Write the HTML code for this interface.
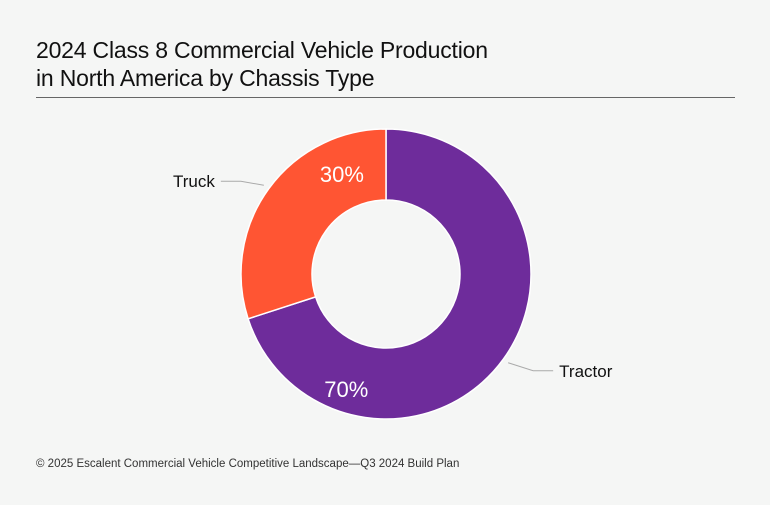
<!DOCTYPE html>
<html><head><meta charset="utf-8"><style>
body{margin:0;background:#f5f6f5;font-family:"Liberation Sans",sans-serif;}
#wrap{position:relative;width:770px;height:505px;background:#f5f6f5;overflow:hidden}
h1{position:absolute;left:36px;top:36px;margin:0;font-weight:normal;font-size:23px;line-height:28px;color:#111;letter-spacing:-0.2px}
#rule{position:absolute;left:36px;top:97px;width:699px;height:1px;background:#666}
#foot{position:absolute;left:36px;top:458px;font-size:11.5px;color:#333}
svg{position:absolute;left:0;top:0}
</style></head><body>
<div id="wrap">
<h1>2024 Class 8 Commercial Vehicle Production<br>in North America by Chassis Type</h1>
<div id="rule"></div>
<svg id="svg" width="770" height="505"></svg>
<div id="foot">© 2025 Escalent Commercial Vehicle Competitive Landscape—Q3 2024 Build Plan</div>
</div>
<script>
const categories=["Tractor","Truck"];
const values=[70,30];
const colors=["#6e2c9b","#ff5533"];
const NS="http://www.w3.org/2000/svg";
const svg=document.getElementById('svg');
const cx=386,cy=274,R=145,r=74;
const total=values.reduce((a,b)=>a+b,0);
function pt(a,rad){return [cx+rad*Math.sin(a),cy-rad*Math.cos(a)];}
let start=0;
values.forEach((v,i)=>{
  const ang=v/total*2*Math.PI,end=start+ang;
  const large=ang>Math.PI?1:0;
  const [x1,y1]=pt(start,R),[x2,y2]=pt(end,R),[x3,y3]=pt(end,r),[x4,y4]=pt(start,r);
  const p=document.createElementNS(NS,'path');
  p.setAttribute('d',`M${x1},${y1}A${R},${R} 0 ${large} 1 ${x2},${y2}L${x3},${y3}A${r},${r} 0 ${large} 0 ${x4},${y4}Z`);
  p.setAttribute('fill',colors[i]);p.setAttribute('stroke','#fff');p.setAttribute('stroke-width','1.5');
  
  
  svg.appendChild(p);
  const mid=start+ang/2;
  const t=document.createElementNS(NS,'text');
  const pos=(i===0)?pt(start+ang*0.79,(R+r)/2+12):pt(start+ang*0.78,(R+r)/2);
  t.setAttribute('x',pos[0]);t.setAttribute('y',pos[1]+8);
  t.setAttribute('text-anchor','middle');t.setAttribute('fill','#fff');t.setAttribute('font-size','22');
  t.setAttribute('font-family','Liberation Sans, sans-serif');
  t.textContent=v+'%';
  
  
  svg.appendChild(t);
  // leader + category label
  const lp=pt(mid,R+6);
  const right=Math.sin(mid)>0;
  const ex=right?lp[0]+45:lp[0]-43, ey=lp[1]+(right?8:-4);
  const l=document.createElementNS(NS,'polyline');
  l.setAttribute('points',`${lp[0]},${lp[1]} ${right?ex-20:ex+20},${ey} ${ex},${ey}`);
  l.setAttribute('fill','none');l.setAttribute('stroke','#aaa');l.setAttribute('stroke-width','1');
  
  
  svg.appendChild(l);
  const c=document.createElementNS(NS,'text');
  c.setAttribute('x',right?ex+6:ex-6);c.setAttribute('y',ey+6);
  c.setAttribute('text-anchor',right?'start':'end');c.setAttribute('fill','#111');c.setAttribute('font-size','17');
  c.setAttribute('font-family','Liberation Sans, sans-serif');
  c.textContent=categories[i];
  
  
  svg.appendChild(c);
  start=end;
});
</script>
</body></html>
